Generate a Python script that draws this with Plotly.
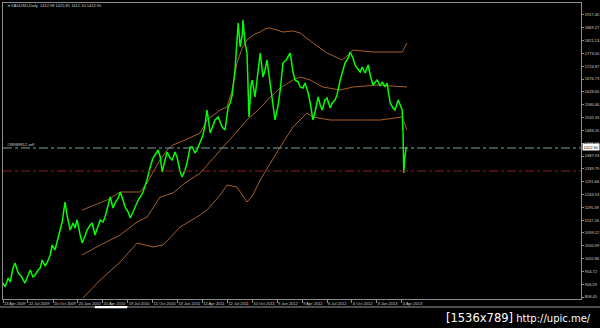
import plotly.graph_objects as go

# ---------------- data ----------------
price_bar = [0,5,13,18,25,30,38,45,55,63,68,75,80,88,93,98,105,110,118,123,130,135,143,148,155,160,168,175,180,185,
             193,198,205,210,218,223,230,238,243,250,255,263,268,275,280,288,293,300,305,313,318,325,330,338,343,350,
             355,360,368,375,380,388,393,398,405,410,418,423,430,435,443,448,455,460,468,473,480,485,493,500,505,510,
             518,523,530,538,543,548,555,563,568,573,580,585,588,593,598,600,605,610,615,620,623,630,638,643,650,655,
             660,668,673,680,688,693,700,708,718,725,730,738,743,750,755,763,768,775,780,788,793,798,805,810,818,823,
             830,835,843,850,855,863,868,875,880,885,893,898,905,913,918,925,930,935,943,948,955,960,968,975,980,988,
             993,998,1000,1002,1004,1006,1008]
price_close = [911.0,896.0,929.8,914.8,967.4,986.1,948.6,937.3,911.0,941.1,959.8,933.6,941.1,959.8,967.4,997.4,974.9,
               986.1,1016.2,1053.7,1034.9,1065.0,1110.0,1140.1,1215.2,1166.4,1110.0,1136.3,1117.6,1147.6,1091.3,1061.2,
               1087.5,1110.0,1128.8,1136.3,1091.3,1125.1,1147.6,1140.1,1158.9,1203.9,1234.0,1192.7,1211.4,1230.2,1252.7,
               1222.7,1196.4,1177.6,1155.1,1177.6,1196.4,1222.7,1234.0,1252.7,1275.3,1297.8,1346.6,1380.4,1391.7,1410.4,
               1384.2,1327.8,1372.9,1402.9,1380.4,1372.9,1402.9,1384.2,1327.8,1309.1,1335.3,1361.6,1421.7,1421.7,1399.2,
               1410.4,1440.5,1466.8,1504.3,1560.6,1474.3,1493.1,1523.1,1534.4,1515.6,1496.8,1485.5,1571.9,1586.9,1617.0,
               1710.8,1823.5,1887.3,1797.2,1842.3,1898.6,1812.2,1774.7,1534.4,1654.5,1673.3,1609.5,1710.8,1774.7,1684.6,
               1710.8,1748.4,1662.0,1598.2,1523.1,1579.4,1635.7,1737.1,1748.4,1774.7,1703.3,1673.3,1665.8,1647.0,1643.3,
               1662.0,1624.5,1586.9,1523.1,1553.1,1609.5,1579.4,1560.6,1598.2,1605.7,1568.2,1586.9,1598.2,1617.0,1673.3,
               1710.8,1737.1,1755.9,1778.4,1755.9,1729.6,1718.4,1703.3,1722.1,1699.6,1729.6,1692.1,1654.5,1662.0,1673.3,
               1650.8,1665.8,1647.0,1662.0,1586.9,1568.2,1560.6,1598.2,1579.4,1560.6,1478.0,1324.1,1372.9,1391.7,1421.7]

upper_bar = [198,230,260,293,343,360,385,410,425,455,493,510,543,560,573,585,598,610,630,643,655,668,700,725,743,
             775,810,848,860,875,925,998,1003,1010]
upper_val = [1185.1,1203.9,1222.7,1252.7,1252.7,1286.5,1354.1,1410.4,1429.2,1448.0,1474.3,1523.1,1560.6,1571.9,
             1635.7,1737.1,1793.5,1823.5,1846.0,1853.5,1864.8,1868.6,1853.5,1857.3,1849.8,1812.2,1774.7,1748.4,
             1763.4,1785.9,1778.4,1778.4,1793.5,1812.2]

middle_bar = [198,243,293,335,360,393,425,455,493,543,580,610,643,668,693,725,743,768,800,843,875,935,1010]
middle_val = [1016.2,1053.7,1091.3,1140.1,1158.9,1234.0,1249.0,1286.5,1324.1,1410.4,1474.3,1523.1,1568.2,1609.5,
              1643.3,1673.3,1684.6,1673.3,1647.0,1635.7,1647.0,1654.5,1647.0]

lower_bar = [200,243,293,335,375,400,443,493,510,543,560,585,610,625,643,668,693,725,743,760,775,818,893,943,998,
             1005,1010]
lower_val = [854.7,922.3,989.9,1061.2,1046.2,1053.7,1121.3,1166.4,1185.1,1241.5,1279.0,1271.5,1215.2,1241.5,1297.8,
             1361.6,1421.7,1496.8,1523.1,1549.4,1534.4,1523.1,1523.1,1523.1,1534.4,1504.3,1485.5]

y_tick_vals = [1917.40,1869.27,1821.13,1773.00,1724.87,1676.73,1628.60,1580.46,1532.33,1484.20,1436.06,1387.93,
               1339.79,1291.66,1243.53,1195.39,1147.26,1099.12,1050.99,1002.86,954.72,906.59,858.45]
y_tick_text = ["%.2f" % v for v in y_tick_vals]

x_tick_bars = [0,62,125,187,249,312,374,436,498,561,623,685,748,810,872,934,997]
x_tick_text = ["23 Apr 2009","22 Jul 2009","20 Oct 2009","20 Jan 2010","20 Apr 2010","19 Jul 2010",
               "15 Oct 2010","13 Jan 2011","12 Apr 2011","12 Jul 2011","10 Oct 2011","9 Jan 2012",
               "9 Apr 2012","6 Jul 2012","4 Oct 2012","3 Jan 2013","4 Apr 2013"]

order_price = 1418.0
stop_price = 1331.6
last_price = 1422.90
header = "XAUUSD,Daily  1412.98 1425.81 1412.10 1422.90"
order_label = "#38989812 sell"
watermark_size = "[1536x789]"
watermark_url = "http://upic.me/"

# ---------------- figure ----------------
BAND = "#a65f28"
AX = "#8c8c8c"
TXT = "#d0d0d0"

fig = go.Figure()
for bx, by in [(upper_bar, upper_val), (middle_bar, middle_val), (lower_bar, lower_val)]:
    fig.add_trace(go.Scatter(x=bx, y=by, mode="lines", line=dict(color=BAND, width=1), hoverinfo="skip"))
fig.add_trace(go.Scatter(x=price_bar, y=price_close, mode="lines",
                         line=dict(color="#00ff00", width=1.5)))

fig.add_shape(type="line", xref="paper", x0=0, x1=1, y0=order_price, y1=order_price,
              line=dict(color="#79a4a0", width=1, dash="dashdot"))
fig.add_shape(type="line", xref="paper", x0=0, x1=1, y0=stop_price, y1=stop_price,
              line=dict(color="#8c1c1c", width=1, dash="dashdot"))

# bottom strip line and highlighted segment
fig.add_shape(type="line", xref="paper", yref="paper", x0=-0.006, x1=1.035, y0=-0.027, y1=-0.027,
              line=dict(color="#9a9a9a", width=1))
fig.add_shape(type="rect", xref="paper", yref="paper", x0=0.159, x1=0.215, y0=-0.031, y1=-0.024,
              line=dict(width=0), fillcolor="#ffffff")

fig.add_annotation(xref="paper", yref="paper", x=0.005, y=0.99, xanchor="left", yanchor="middle",
                   text="\u25be " + header, showarrow=False, font=dict(size=4, color=TXT, family="Liberation Sans"))
fig.add_annotation(xref="paper", yref="y", x=0.004, y=order_price, yshift=3, xanchor="left", yanchor="middle",
                   text=order_label, showarrow=False, font=dict(size=4, color=TXT, family="Liberation Sans"))
fig.add_annotation(xref="paper", yref="y", x=1, y=last_price, xshift=1, xanchor="left", yanchor="middle",
                   text="%.2f" % last_price, showarrow=False, bgcolor="#ffffff", borderpad=0.5,
                   font=dict(size=4, color="#000000", family="Liberation Sans"))
fig.add_annotation(xref="paper", yref="paper", x=1.021, y=-0.064, xanchor="right", yanchor="middle",
                   text="<span style='font-size:11.5px'>" + watermark_size + "</span> " + watermark_url,
                   showarrow=False, font=dict(size=10, color="#ffffff", family="DejaVu Sans"))

fig.update_layout(
    template="none",
    width=600, height=328,
    margin=dict(l=3, r=19, t=3, b=29, pad=0),
    paper_bgcolor="#000000", plot_bgcolor="#000000",
    showlegend=False,
    xaxis=dict(range=[0, 1445], tickmode="array", tickvals=x_tick_bars, ticktext=x_tick_text,
               ticks="outside", ticklen=3, tickcolor=AX, tickwidth=1, tickangle=0,
               ticklabelposition="outside right",
               tickfont=dict(size=4, color=TXT, family="Liberation Sans"),
               showgrid=False, zeroline=False, showline=True, mirror=True, linecolor=AX, linewidth=1,
               automargin=False),
    yaxis=dict(range=[851.0, 1962.4], side="right", tickmode="array", tickvals=y_tick_vals, ticktext=y_tick_text,
               ticks="outside", ticklen=2, tickcolor=AX, tickwidth=1,
               tickfont=dict(size=4, color=TXT, family="Liberation Sans"),
               showgrid=False, zeroline=False, showline=True, mirror=True, linecolor=AX, linewidth=1,
               automargin=False),
)

fig.write_html("out.html")
